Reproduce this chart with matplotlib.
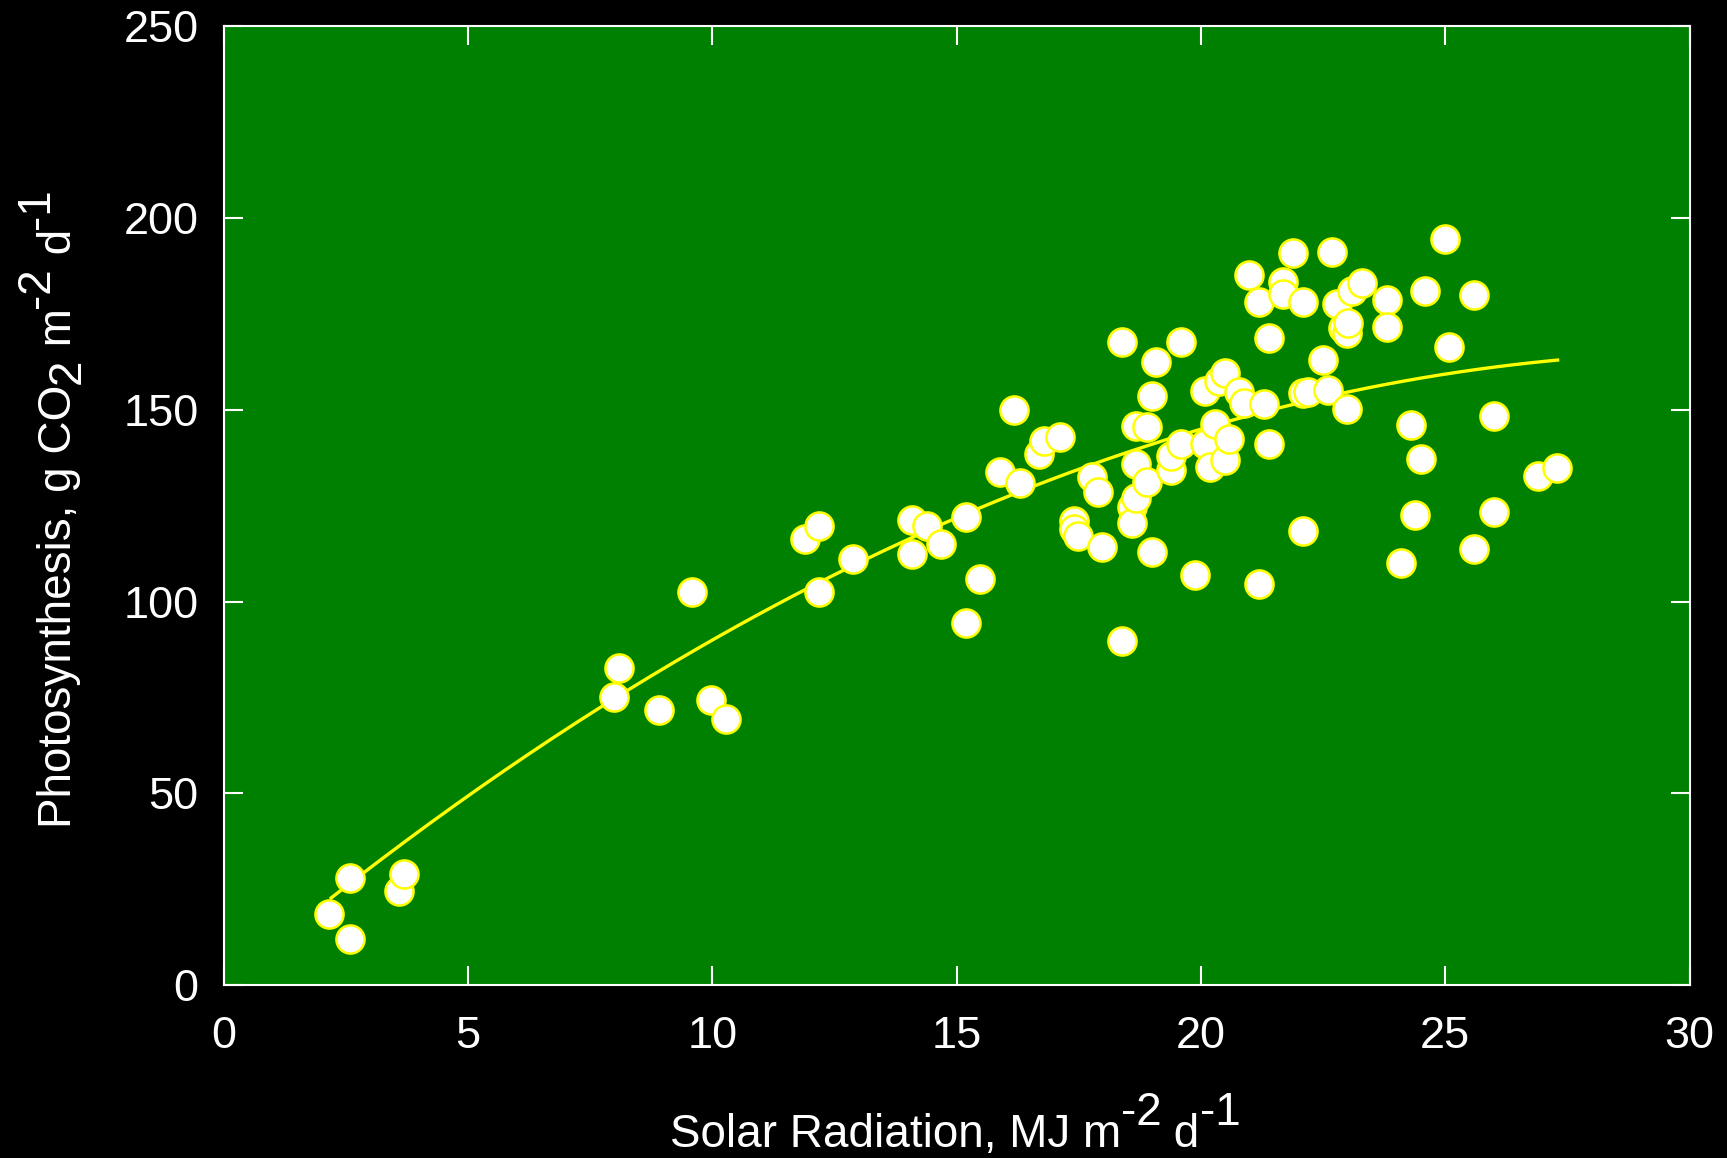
"""
Photosynthesis vs. solar radiation, gnuplot-look scatter with fitted curve.
"""

import numpy as np
import matplotlib
matplotlib.use("Agg")
import matplotlib.pyplot as plt
from matplotlib.transforms import IdentityTransform

plt.rcParams["font.family"] = ["Liberation Sans", "DejaVu Sans"]

# daily solar radiation (MJ m-2 d-1) and photosynthesis (g CO2 m-2 d-1)
radiation = [
    2.16, 2.59, 2.59, 3.58, 3.70, 7.98, 8.09, 8.90, 9.58, 9.98,
    10.28, 11.90, 12.19, 12.19, 12.89, 14.09, 14.09, 14.40, 14.69, 15.19,
    15.19, 15.48, 15.89, 16.18, 16.29, 16.68, 16.79, 17.11, 17.40, 17.40,
    17.49, 17.78, 17.90, 17.98, 18.39, 18.39, 18.59, 18.59, 18.68, 18.68,
    18.68, 18.89, 18.89, 19.00, 19.09, 19.00, 19.38, 19.38, 19.59, 19.59,
    19.88, 20.08, 20.08, 20.19, 20.28, 20.37, 20.49, 20.49, 20.58, 20.78,
    20.89, 20.98, 21.19, 21.19, 21.30, 21.39, 21.39, 21.68, 21.68, 21.88,
    22.09, 22.09, 22.09, 22.20, 22.49, 22.60, 22.69, 22.79, 22.90, 22.99,
    23.01, 22.99, 23.10, 23.30, 23.80, 23.80, 24.09, 24.30, 24.39, 24.50,
    24.59, 24.99, 25.08, 25.58, 25.58, 25.99, 25.99, 26.89, 27.29,
]
photosynthesis = [
    18.4, 27.9, 12.1, 24.4, 29.0, 75.0, 82.8, 71.6, 102.6, 74.4,
    69.5, 116.4, 119.8, 102.6, 111.2, 121.3, 112.4, 119.8, 114.9, 122.1,
    94.5, 106.0, 133.9, 150.0, 131.0, 138.5, 142.0, 142.8, 121.0, 119.0,
    117.2, 132.5, 128.7, 114.1, 167.8, 89.7, 124.7, 120.4, 127.0, 145.7,
    135.9, 145.4, 131.3, 153.7, 162.6, 112.9, 134.2, 137.9, 141.1, 167.8,
    106.9, 154.9, 141.1, 135.1, 146.3, 157.5, 159.5, 136.8, 142.5, 154.6,
    151.7, 185.1, 104.6, 178.2, 151.4, 168.7, 141.1, 183.3, 180.2, 190.8,
    178.2, 154.3, 118.4, 154.6, 162.9, 155.2, 191.1, 177.6, 171.3, 170.1,
    172.7, 150.3, 181.0, 183.0, 178.7, 171.6, 110.1, 146.0, 122.7, 137.1,
    181.0, 194.5, 166.4, 179.9, 113.8, 148.3, 123.3, 132.8, 134.8,
]

# quadratic fit: P = c0 + c1*R + c2*R^2
fit_coef = [-0.12, 10.76, -0.1753]
fit_range = (2.2, 27.3)

x_ticks = [0, 5, 10, 15, 20, 25, 30]
y_ticks = [0, 50, 100, 150, 200, 250]

# label pieces: (text, baseline shift in em) -- gnuplot style full-size sup/sub
xlabel_parts = [("Solar Radiation, MJ m", 0), ("-2", 0.47), (" d", 0), ("-1", 0.47)]
ylabel_parts = [("Photosynthesis, g CO", 0), ("2", -0.2), (" m", 0), ("-2", 0.47),
                (" d", 0), ("-1", 0.47)]

LABEL_SIZE = 33
TICK_SIZE = 32.5


def rich_label(fig, parts, anchor, size, vertical=False):
    """Lay out text pieces along a baseline centred on anchor (pixels)."""
    r = fig.canvas.get_renderer()
    em = size * fig.dpi / 72
    placed, total = [], 0.0
    for s, shift in parts:
        t = fig.text(0, 0, s, fontsize=size, color="white", ha="left",
                     va="baseline", rotation_mode="anchor",
                     transform=IdentityTransform())
        placed.append((t, shift, total))
        total += t.get_window_extent(r).width
    cx, cy = anchor
    for t, shift, off in placed:
        if vertical:
            t.set_rotation(90)
            t.set_position((cx - shift * em, cy - total / 2 + off))
        else:
            t.set_position((cx - total / 2 + off, cy + shift * em))


fig = plt.figure(figsize=(17.27, 11.58), dpi=100, facecolor="black")
ax = fig.add_axes([0.1295, 0.1494, 0.8488, 0.8278])
ax.set_facecolor("#008000")

xf = np.linspace(*fit_range, 200)
yf = fit_coef[0] + fit_coef[1] * xf + fit_coef[2] * xf ** 2
ax.plot(xf, yf, color="yellow", lw=2.4, zorder=2)

ax.scatter(radiation, photosynthesis, s=410, c="white",
           edgecolors="yellow", linewidths=1.8, zorder=3)

ax.set_xlim(0, 30)
ax.set_ylim(0, 250)
ax.set_xticks(x_ticks)
ax.set_yticks(y_ticks)

for s in ax.spines.values():
    s.set_color("white")
    s.set_linewidth(1.5)
ax.tick_params(direction="in", length=14, width=1.5, colors="white",
               labelsize=TICK_SIZE, top=True, right=True)
ax.tick_params(axis="x", pad=22)
ax.tick_params(axis="y", pad=18)

rich_label(fig, xlabel_parts, (955, 11), LABEL_SIZE)
rich_label(fig, ylabel_parts, (71, 650), LABEL_SIZE, vertical=True)

fig.savefig("out.png", dpi=100, facecolor="black")
